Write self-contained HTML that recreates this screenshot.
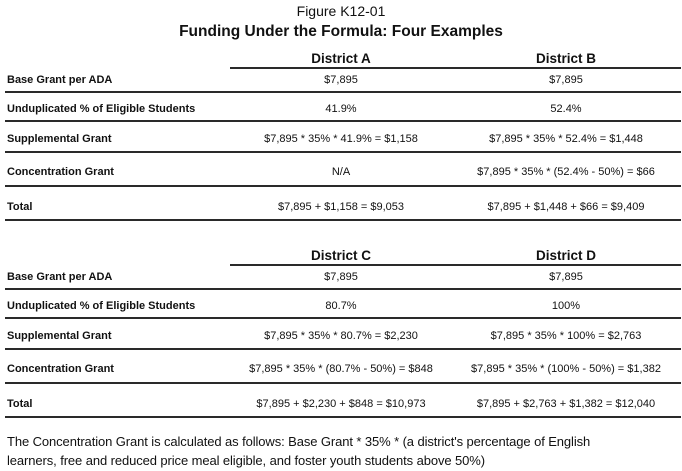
<!DOCTYPE html>
<html><head><meta charset="utf-8"><style>
body{margin:0;width:682px;height:471px;background:#fff;position:relative;overflow:hidden;font-family:"Liberation Sans",Arial,sans-serif;color:#111}
.t{position:absolute;white-space:nowrap;line-height:1}
.c{transform:translateX(-50%)}
.l{font-weight:bold;font-size:11px;left:7px}
.v{font-size:11px}
.h{font-weight:bold;font-size:13.5px}
.r{position:absolute;height:2px;background:#2a2a2a}
</style></head><body>
<div class="t c" style="left:341px;top:4px;font-size:14px">Figure K12-01</div>
<div class="t c" style="left:341px;top:24px;font-size:15.5px;font-weight:bold">Funding Under the Formula: Four Examples</div>
<div id="tables"></div>
<div class="t" style="left:7px;top:432px;font-size:13px;line-height:19px;white-space:normal;width:615px;letter-spacing:-0.1px">The Concentration Grant is calculated as follows: Base Grant * 35% * (a district's percentage of English learners, free and reduced price meal eligible, and foster youth students above 50%)</div>
<script>
const labels=["Base Grant per ADA","Unduplicated % of Eligible Students","Supplemental Grant","Concentration Grant","Total"];
const tableTop=[0,197];
const heads=[["District A","District B"],["District C","District D"]];
const vals=[
[["$7,895","41.9%","$7,895 * 35% * 41.9% = $1,158","N/A","$7,895 + $1,158 = $9,053"],
 ["$7,895","52.4%","$7,895 * 35% * 52.4% = $1,448","$7,895 * 35% * (52.4% - 50%) = $66","$7,895 + $1,448 + $66 = $9,409"]],
[["$7,895","80.7%","$7,895 * 35% * 80.7% = $2,230","$7,895 * 35% * (80.7% - 50%) = $848","$7,895 + $2,230 + $848 = $10,973"],
 ["$7,895","100%","$7,895 * 35% * 100% = $2,763","$7,895 * 35% * (100% - 50%) = $1,382","$7,895 + $2,763 + $1,382 = $12,040"]]];
const rowText=[75,104,134,167,202];
const rowLine=[91,120,151,185,219];
const colX=[341,566];
const root=document.getElementById('tables');
function mk(cls,style,txt){const d=document.createElement('div');d.className=cls;d.setAttribute('style',style);if(txt!==undefined)d.textContent=txt;root.appendChild(d);return d;}
tableTop.forEach((o,ti)=>{
  heads[ti].forEach((h,ci)=>{
    const d=mk('t c h','left:'+colX[ci]+'px;top:'+(52+o)+'px',h);
    
    
  });
  const hl=mk('r','left:230px;width:451px;top:'+(67+o)+'px');
  
  
  labels.forEach((lab,ri)=>{
    const d=mk('t l','top:'+(rowText[ri]+o)+'px',lab);
    
    
    vals[ti].forEach((col,ci)=>{
      const v=mk('t c v','left:'+colX[ci]+'px;top:'+(rowText[ri]+o)+'px',col[ri]);
      
      
    });
    const r=mk('r','left:5px;width:676px;top:'+(rowLine[ri]+o)+'px');
    
    
  });
});
</script>
</body></html>
